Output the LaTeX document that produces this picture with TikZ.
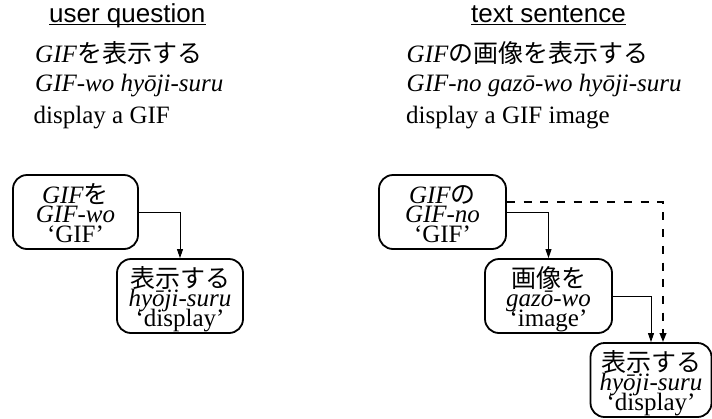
\documentclass[tikz,border=0pt]{standalone}
\usepackage{fontspec}
\setmainfont{Liberation Serif}
\newfontfamily\headfont{Liberation Sans}
\newfontfamily\jp{Noto Sans CJK JP}
\usetikzlibrary{arrows.meta}

% tight line stacking inside the word boxes
\newcommand\boxlines{\fontsize{25}{19.7}\selectfont\lineskiplimit=-100pt\relax}

\tikzset{
  heading/.style={anchor=base west, inner sep=0pt,
    font=\headfont\fontsize{26}{30}\selectfont},
  gloss/.style={anchor=base west, inner sep=0pt,
    font=\fontsize{25}{30}\selectfont},
  wordbox/.style={draw, line width=1.8pt, rounded corners=14pt, inner sep=0pt,
    text width=#1, minimum width=#1, minimum height=74pt, align=center,
    text height=28pt, text depth=46pt, font=\boxlines},
  link/.style={line width=0.9pt, -{Triangle[length=9pt,width=6pt]}},
  xlink/.style={line width=2pt, dash pattern=on 8pt off 8.7pt,
    -{Triangle[length=9pt,width=6.5pt]}}
}

\begin{document}
\begin{tikzpicture}[x=1pt, y=-1pt]
\useasboundingbox (0,0) rectangle (712,418);

% column headings
\node[heading] (uq) at (49,22) {user question};
\node[heading] (ts) at (471,22) {text sentence};
\draw[line width=1.3pt] ([yshift=-2.3pt]uq.base west) -- ([yshift=-2.3pt]uq.base east);
\draw[line width=1.3pt] ([yshift=-2.3pt]ts.base west) -- ([yshift=-2.3pt]ts.base east);

% sentences with transliteration and translation
\node[gloss] (q1) at (35,62) {\textit{GIF}{\jp を表示する}};
\node[gloss] (q2) at (35,91) {\textit{GIF-wo hyōji-suru}};
\node[gloss] (q3) at (33.5,123) {display a GIF};
\node[gloss] (s1) at (406.5,62) {\textit{GIF}{\jp の画像を表示する}};
\node[gloss] (s2) at (406.5,91) {\textit{GIF-no gazō-wo hyōji-suru}};
\node[gloss] (s3) at (406,123) {display a GIF image};

% dependency tree of the question
\node[wordbox=125pt] (b1) at (75.5,212) {\textit{GIF}{\jp を}\\\textit{GIF-wo}\\‘GIF’};
\node[wordbox=126pt] (b2) at (180,296) {{\jp 表示する}\\\textit{hyōji-suru}\\‘display’};
\draw[link] (b1.east) -| (b2.north);

% dependency tree of the sentence
\node[wordbox=127pt] (A) at (442.5,212) {\textit{GIF}{\jp の}\\\textit{GIF-no}\\‘GIF’};
\node[wordbox=127pt] (B) at (548.5,296) {{\jp 画像を}\\\textit{gazō-wo}\\‘image’};
\node[wordbox=121pt] (C) at (651,380) {{\jp 表示する}\\\textit{hyōji-suru}\\‘display’};
\draw[link] (A.east) -| (B.north);
\draw[link] (B.east) -| (C.north);
\draw[xlink] ([yshift=10.5pt]A.east) -| ([xshift=12pt]C.north);
\end{tikzpicture}
\end{document}
